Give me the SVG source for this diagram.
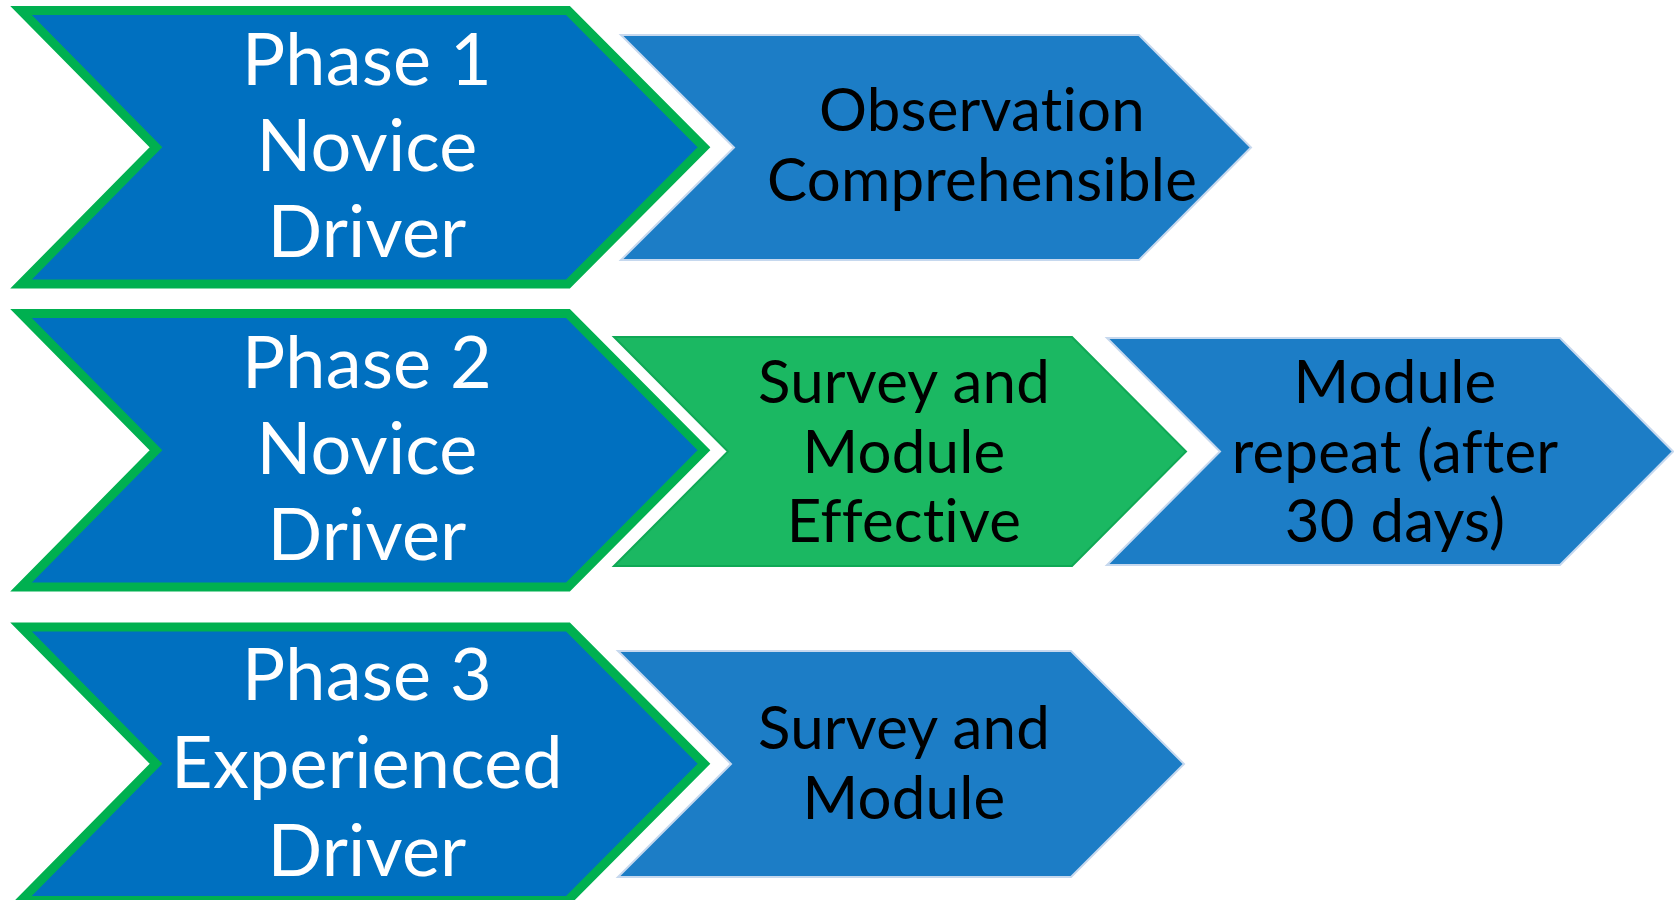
<svg xmlns="http://www.w3.org/2000/svg" width="1674" height="900" viewBox="0 0 1674 900">
<style>
.phase{fill:#0070C0;stroke:#00B050;stroke-width:9;stroke-linejoin:miter;stroke-miterlimit:4}
.step{fill:#1C7DC6;stroke:#C6D8EE;stroke-width:2}
.stepg{fill:#1BB862;stroke:#0FA855;stroke-width:2}
text{font-variant-ligatures:none;font-feature-settings:"liga" 0,"clig" 0,"dlig" 0;letter-spacing:0.2px}
.wt{font-family:Lato,"Open Sans",sans-serif;font-size:72px;fill:#FFFFFF;text-anchor:middle}
.bt{font-family:Lato,"Open Sans",sans-serif;font-size:60px;fill:#000000;text-anchor:middle}
</style>
<rect width="1674" height="900" fill="#FFFFFF"/>
<g id="phase1">
<polygon class="phase" points="21,10.5 568,10.5 704,147.25 568,284 21,284 156,147.25"/>
<text class="wt" x="367" y="85">Phase 1</text>
<text class="wt" x="367" y="171">Novice</text>
<text class="wt" x="367" y="257">Driver</text>
</g>
<g id="observation">
<polygon class="step" points="621,35 1139,35 1251,147.5 1139,260 621,260 734,147.5"/>
<text class="bt" x="982" y="131">Observation</text>
<text class="bt" x="982" y="201">Comprehensible</text>
</g>
<g id="phase2">
<polygon class="phase" points="21,313.5 568,313.5 704,450.25 568,587 21,587 156,450.25"/>
<text class="wt" x="367" y="388">Phase 2</text>
<text class="wt" x="367" y="474">Novice</text>
<text class="wt" x="367" y="560">Driver</text>
</g>
<g id="survey-effective">
<polygon class="stepg" points="614,337 1072,337 1186,451.5 1072,566 614,566 728,451.5"/>
<text class="bt" x="904" y="403">Survey and</text>
<text class="bt" x="904" y="473">Module</text>
<text class="bt" x="904" y="542">Effective</text>
</g>
<g id="module-repeat">
<polygon class="step" points="1107,338 1560,338 1673,451.5 1560,565 1107,565 1220,451.5"/>
<text class="bt" x="1395" y="403">Module</text>
<text class="bt" x="1395" y="473">repeat (after</text>
<text class="bt" x="1395" y="542">30 days)</text>
</g>
<g id="phase3">
<polygon class="phase" points="21,627 568,627 704,763.75 568,900.5 21,900.5 156,763.75"/>
<text class="wt" x="367" y="700">Phase 3</text>
<text class="wt" x="367" y="788">Experienced</text>
<text class="wt" x="367" y="876">Driver</text>
</g>
<g id="survey-module">
<polygon class="step" points="618,651 1071,651 1184,764 1071,877 618,877 731,764"/>
<text class="bt" x="904" y="749">Survey and</text>
<text class="bt" x="904" y="819">Module</text>
</g>
<g id="connectors"></g>
</svg>
